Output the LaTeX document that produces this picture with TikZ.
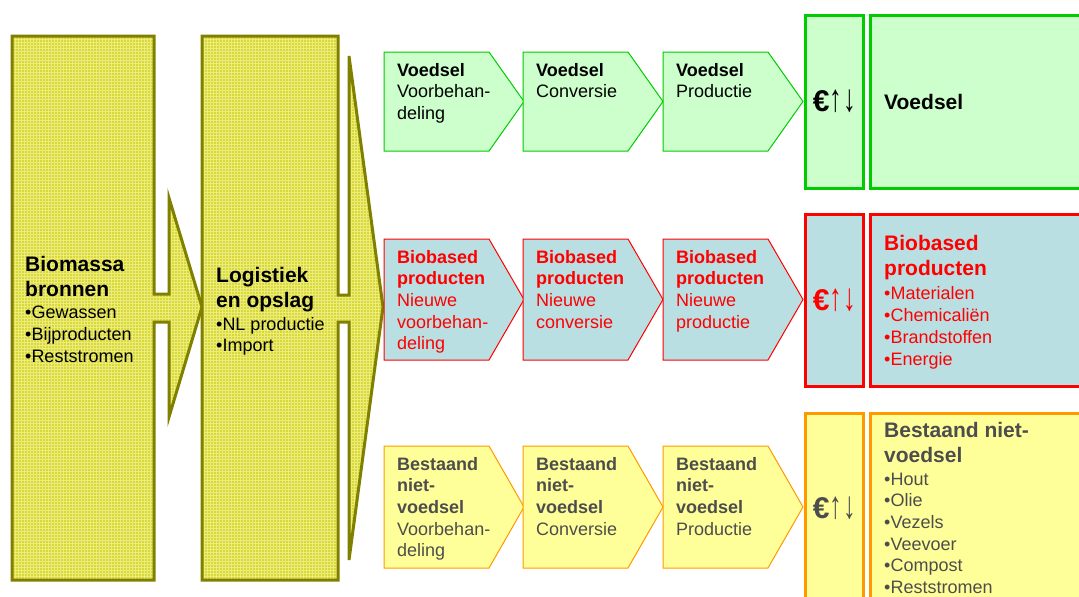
\documentclass[tikz,border=0pt]{standalone}
\usepackage{fontspec}
\setmainfont{Liberation Sans}
\usetikzlibrary{patterns}
\definecolor{olivefill}{HTML}{D8D838}
\definecolor{olivegrid}{HTML}{ECEC7C}
\definecolor{oliveedge}{HTML}{808000}
\definecolor{vgfill}{HTML}{CCFFCC}
\definecolor{vgline}{HTML}{00CC00}
\definecolor{bbfill}{HTML}{B9DFE3}
\definecolor{bbline}{HTML}{FF0000}
\definecolor{bnfill}{HTML}{FFFF99}
\definecolor{bnline}{HTML}{FF9900}
\definecolor{bntext}{HTML}{4D4D4D}
\newcommand\eurosign{{\fontsize{30}{34}\selectfont\bfseries €}\scalebox{1.15}[1.75]{↑\kern1pt↓}}
\begin{document}
\begin{tikzpicture}[x=1pt,y=-1pt,
  bigarrow/.style={draw=oliveedge,line width=3pt,line join=miter,
    preaction={fill=olivefill},pattern=grid,pattern color=olivegrid},
  chevA/.style={draw=vgline,fill=vgfill,line width=1pt},
  chevB/.style={draw=bbline,fill=bbfill,line width=1pt},
  chevC/.style={draw=bnline,fill=bnfill,line width=1pt},
  boxA/.style={draw=vgline,fill=vgfill,line width=3pt},
  boxB/.style={draw=bbline,fill=bbfill,line width=3pt},
  boxC/.style={draw=bnline,fill=bnfill,line width=3pt},
  txt/.style={inner sep=0pt,anchor=base west,align=left,
    font=\fontsize{18}{21.7}\selectfont},
  hdr/.style={inner sep=0pt,anchor=base west,align=left,
    font=\fontsize{21}{25}\selectfont\bfseries},
  eurotxt/.style={inner sep=0pt,anchor=base,font=\fontsize{22}{26}\selectfont}]
\useasboundingbox (0,0) rectangle (1079,597);
\clip (0,0) rectangle (1079,597);

% big arrows
\path[bigarrow] (12,36) -- (154,36) -- (154,294) -- (169,294) -- (169,198)
  -- (202,307) -- (169,417) -- (169,322) -- (154,322) -- (154,580)
  -- (12,580) -- cycle;
\path[bigarrow] (202,36) -- (338,36) -- (338,295) -- (349,295) -- (349,56)
  -- (383,307) -- (349,560) -- (349,322) -- (338,322) -- (338,580)
  -- (202,580) -- cycle;

% (base anchor = baseline of the last line)
\node[hdr,text=black] (bio) at (25,296) {Biomassa\\bronnen};
\node[txt,text=black] (biol) at (25,362) {•Gewassen\\•Bijproducten\\•Reststromen};
\node[hdr,text=black] (log) at (216,307) {Logistiek\\en opslag};
\node[txt,text=black] (logl) at (216,351.7) {•NL productie\\•Import};

% chevrons
\foreach \L in {384,523,663}{
  \path[chevA] (\L,52) -- (\L+105,52) -- (\L+140,101.5) -- (\L+105,151) -- (\L,151) -- cycle;
  \path[chevB] (\L,239) -- (\L+105,239) -- (\L+140,299.5) -- (\L+105,360) -- (\L,360) -- cycle;
  \path[chevC] (\L,446) -- (\L+105,446) -- (\L+140,507) -- (\L+105,568) -- (\L,568) -- cycle;
}
% row 1 text
\node[txt] (a1) at (397,119.4) {\textbf{Voedsel}\\Voorbehan-\\deling};
\node[txt] (a2) at (536,97.7) {\textbf{Voedsel}\\Conversie};
\node[txt] (a3) at (676,97.7) {\textbf{Voedsel}\\Productie};
% row 2 text
\node[txt,text=bbline] (b1) at (397,349.8) {\textbf{Biobased}\\\textbf{producten}\\Nieuwe\\voorbehan-\\deling};
\node[txt,text=bbline] (b2) at (536,328.1) {\textbf{Biobased}\\\textbf{producten}\\Nieuwe\\conversie};
\node[txt,text=bbline] (b3) at (676,328.1) {\textbf{Biobased}\\\textbf{producten}\\Nieuwe\\productie};
% row 3 text
\node[txt,text=bntext] (c1) at (397,556.8) {\textbf{Bestaand}\\\textbf{niet-}\\\textbf{voedsel}\\Voorbehan-\\deling};
\node[txt,text=bntext] (c2) at (536,535.1) {\textbf{Bestaand}\\\textbf{niet-}\\\textbf{voedsel}\\Conversie};
\node[txt,text=bntext] (c3) at (676,535.1) {\textbf{Bestaand}\\\textbf{niet-}\\\textbf{voedsel}\\Productie};

% euro boxes and outcome boxes
\path[boxA] (805,15) rectangle (863,188);
\path[boxA] (870,15) rectangle (1090,188);
\path[boxB] (805,214) rectangle (863,386);
\path[boxB] (870,214) rectangle (1090,386);
\path[boxC] (805,413) rectangle (863,610);
\path[boxC] (870,413) rectangle (1090,610);

\node[eurotxt,text=black] (e1) at (834.5,111) {\eurosign};
\node[eurotxt,text=bbline] (e2) at (834.5,310) {\eurosign};
\node[eurotxt,text=bntext] (e3) at (834.5,518) {\eurosign};

\node[hdr,text=black] (o1) at (884,109) {Voedsel};
\node[hdr,text=bbline] (o2) at (884,275) {Biobased\\producten};
\node[txt,text=bbline] (o2l) at (884,365) {•Materialen\\•Chemicaliën\\•Brandstoffen\\•Energie};
\node[hdr,text=bntext] (o3) at (884,462) {Bestaand niet-\\voedsel};
\node[txt,text=bntext] (o3l) at (884,593.5) {•Hout\\•Olie\\•Vezels\\•Veevoer\\•Compost\\•Reststromen};
\end{tikzpicture}
\end{document}
